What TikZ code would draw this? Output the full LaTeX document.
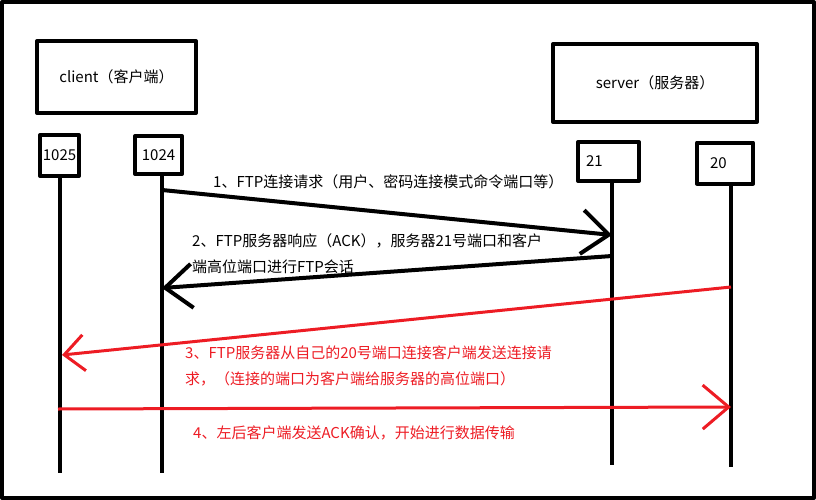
\documentclass[tikz,border=0pt]{standalone}
\usepackage{fontspec}
\setmainfont{Noto Sans CJK SC}
\usetikzlibrary{arrows.meta}
\definecolor{paintred}{RGB}{237,28,36}

\begin{document}
\begin{tikzpicture}[x=1pt,y=-1pt,line join=round,
  box node/.style={draw,line width=4pt,inner sep=0pt,font=\fontsize{15}{18}\selectfont},
  port node/.style={draw,line width=4pt,inner sep=0pt,font=\fontsize{15}{18}\selectfont},
  life line/.style={line width=3.5pt},
  msg/.style={line width=4pt,-{Straight Barb[length=27pt,width=44pt]}},
  red msg/.style={draw=paintred,line width=3pt,-{Straight Barb[length=26pt,width=44pt]}},
  small head/.style={-{Straight Barb[length=20pt,width=36pt]}},
  note/.style={anchor=west,inner sep=0pt,align=left,font=\fontsize{15}{26}\selectfont}]
  \useasboundingbox (0,0) rectangle (816,500);
  \draw[line width=4pt] (2,2) rectangle (814,498);
  % hosts
  \node[box node,minimum width=159pt,minimum height=72pt] (client) at (116.5,77) {client（客户端）};
  \node[box node,minimum width=204pt,minimum height=78pt] (server) at (655,83) {server（服务器）};
  % ports
  \node[port node,minimum width=39pt,minimum height=41pt] (p1025) at (59.5,155.5) {1025};
  \node[port node,minimum width=47pt,minimum height=38pt] (p1024) at (158.5,155) {1024};
  \node[port node,minimum height=39pt,text width=45pt,inner xsep=8pt,align=left] (p21) at (608.5,161.5) {21};
  \node[port node,minimum height=41pt,text width=30pt,inner xsep=13pt,align=left] (p20) at (725,163) {20};
  \coordinate (e1025) at (60,473);
  \coordinate (e1024) at (162,473);
  \coordinate (e21) at (612,465);
  \coordinate (e20) at (731,467);
  % message ends
  \coordinate (m1a) at (162,190);
  \coordinate (m1b) at (612,235);
  \coordinate (m2a) at (612,256);
  \coordinate (m2b) at (162,288);
  \coordinate (m3a) at (731,287);
  \coordinate (m3b) at (62,355);
  \coordinate (m4a) at (58,409);
  \coordinate (m4b) at (731,407);
  \path
    (p1025.south -| e1025) edge[life line] (e1025)
    (p1024.south -| e1024) edge[life line] (e1024)
    (p21.south -| e21) edge[life line] (e21)
    (p20.south -| e20) edge[life line] (e20)
    (m1a) edge[msg] (m1b)
    (m2a) edge[msg] (m2b)
    (m3a) edge[red msg,small head] (m3b)
    (m4a) edge[red msg] (m4b);
  % labels
  \node[note] (t1) at (213,182) {1、FTP连接请求（用户、密码连接模式命令端口等）};
  \node[note] (t2) at (192,253.5) {2、FTP服务器响应（ACK），服务器21号端口和客户\\端高位端口进行FTP会话};
  \node[note,text=paintred] (t3) at (185,365.5) {3、FTP服务器从自己的20号端口连接客户端发送连接请\\求，（连接的端口为客户端给服务器的高位端口）};
  \node[note,text=paintred] (t4) at (193,433) {4、左后客户端发送ACK确认，开始进行数据传输};
\end{tikzpicture}
\end{document}
